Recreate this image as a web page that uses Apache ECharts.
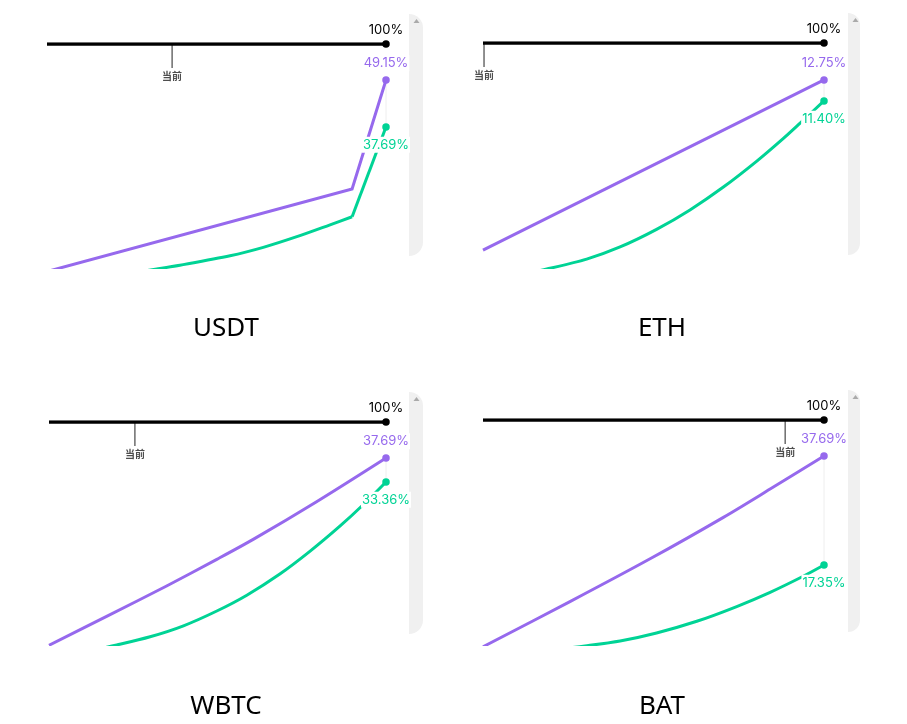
<!DOCTYPE html>
<html>
<head>
<meta charset="utf-8">
<title>Utilization curves</title>
<style>
	html, body { margin: 0; padding: 0; background: #fff; }
	#main { width: 907px; height: 724px; }
</style>
<script src="https://cdn.jsdelivr.net/npm/echarts@6/dist/echarts.min.js"></script>
</head>
<body>
<div id="main"></div>
<script>
// names of the four panels
var assets = ['USDT', 'ETH', 'WBTC', 'BAT'];
// current utilization (%)
var currentUtil = [36.9, 0.3, 25.5, 88.6];
// utilization where the curve has a sharp kink (0 = none)
var kinkUtil = [90, 0, 0, 0];

// [utilization %, rate %]
var borrowUSDT = [[0, 2.46], [90, 22.57], [100, 49.15]];
var supplyUSDT = [[20, 1.45], [32.4, 3.07], [39.2, 4.0], [54, 6.3], [63.8, 8.35], [73.7, 10.95], [83.5, 13.85], [90, 15.82], [100, 37.69]];

var borrowETH = [[0, 1.82], [100, 12.75]];
var supplyETH = [[10, 0.2], [18.7, 0.6], [30.4, 1.24], [40.2, 2.02], [50.9, 3.15], [60.7, 4.4], [70.5, 5.87], [80.3, 7.54], [88.1, 9.0], [93, 9.98], [100, 11.4]];

var borrowWBTC = [[0, 3.9], [17.1, 9.1], [34.9, 14.6], [49.8, 19.4], [60.6, 23], [79.4, 29.8], [100, 37.69]];
var supplyWBTC = [[10, 2.6], [20.1, 3.95], [30, 5.43], [39.9, 7.41], [49.8, 10.08], [58.7, 12.93], [68.5, 16.75], [77.4, 20.84], [86.4, 25.43], [93.3, 29.29], [100, 33.36]];

var borrowBAT = [[0, 2.1], [25.5, 10.52], [49, 18.51], [70.5, 26.25], [84.2, 31.52], [100, 37.69]];
var supplyBAT = [[20, 1.5], [29.9, 2.24], [40.2, 3.17], [50.9, 4.67], [62.7, 6.85], [74.4, 9.6], [84.2, 12.25], [93.9, 15.25], [100, 17.35]];

var borrowData = [borrowUSDT, borrowETH, borrowWBTC, borrowBAT];
var supplyData = [supplyUSDT, supplyETH, supplyWBTC, supplyBAT];

// value range of each panel's rate axis
var rateMin = [3.44, 0.7, 4.04, 2.52];
var rateMax = [51.59, 13.39, 39.49, 39.56];

// panel layout in px
var panels = [
	{ left: 47, width: 339, barTop: 44, top: 70, bottom: 267.5, strip: 409, stripW: 14, titleTop: 311, titleX: 221 },
	{ left: 483, width: 341, barTop: 43, top: 70, bottom: 267.5, strip: 848, stripW: 12, titleTop: 311, titleX: 657 },
	{ left: 49, width: 337, barTop: 422, top: 448, bottom: 644.5, strip: 409, stripW: 14, titleTop: 689, titleX: 221 },
	{ left: 483, width: 341, barTop: 420, top: 446, bottom: 644.5, strip: 848, stripW: 12, titleTop: 689, titleX: 657 }
];

var purple = '#9669ED';
var green = '#00D395';
var textFont = 'Inter, "Noto Sans", sans-serif';

var grid = [], xAxis = [], yAxis = [], series = [], title = [], graphic = [];

function last(arr){
	return arr[arr.length - 1];
}

function addAxis(left, top, width, height, min, max){
	grid.push({ left: left, top: top, width: width, height: height });
	xAxis.push({ type: 'value', gridIndex: grid.length - 1, min: 0, max: 100, show: false });
	yAxis.push({ type: 'value', gridIndex: grid.length - 1, min: min, max: max, show: false });
	return grid.length - 1;
}

function dot(idx, point, color, pos, dist, text, z){
	return {
		type: 'scatter',
		xAxisIndex: idx,
		yAxisIndex: idx,
		z: z,
		symbolSize: 7.5,
		silent: true,
		clip: false,
		itemStyle: { color: color, opacity: 1 },
		label: {
			show: true,
			position: pos,
			distance: dist,
			formatter: text,
			color: color,
			fontFamily: textFont,
			fontSize: 13,
			lineHeight: 16,
			backgroundColor: color == '#000' ? 'transparent' : '#fff',
			padding: [0, 1]
		},
		data: [point]
	};
}

function line(idx, data, color, width, z, smooth){
	return {
		type: 'line',
		xAxisIndex: idx,
		yAxisIndex: idx,
		z: z,
		silent: true,
		showSymbol: false,
		symbol: 'none',
		smooth: smooth ? 0.3 : false,
		lineStyle: { color: color, width: width, cap: 'butt', join: 'miter' },
		data: data
	};
}

for(var i = 0; i < assets.length; i++){
	var p = panels[i];
	var borrow = borrowData[i];
	var supply = supplyData[i];
	var borrowEnd = last(borrow);
	var supplyEnd = last(supply);

	// top bar: black 0-100% line and the current marker
	var barIdx = addAxis(p.left, p.barTop, p.width, 24, 0, 1);
	series.push(line(barIdx, [[0, 1], [100, 1]], '#000', 3.5, 3, false));
	series.push(dot(barIdx, [100, 1], '#000', 'top', 2, '100%', 6));
	series.push(line(barIdx, [[currentUtil[i], 1], [currentUtil[i], 0]], '#222', 1, 2, false));
	series.push({
		type: 'scatter',
		xAxisIndex: barIdx,
		yAxisIndex: barIdx,
		symbolSize: 0,
		silent: true,
		label: {
			show: true,
			position: 'bottom',
			distance: 3,
			formatter: '当前',
			color: '#222',
			fontFamily: '"Noto Sans CJK SC", sans-serif',
			fontWeight: 'bold',
			fontSize: 10
		},
		data: [[currentUtil[i], 0]]
	});

	// rate curves
	var idx = addAxis(p.left, p.top, p.width, p.bottom - p.top, rateMin[i], rateMax[i]);
	series.push(line(idx, [[100, borrowEnd[1]], [100, supplyEnd[1]]], '#eeeeee', 1, 1, false));
	series.push(line(idx, borrow, purple, 3, 2, i >= 2));
	if(kinkUtil[i]){
		// curved up to the kink, straight after it
		var k = kinkUtil[i];
		series.push(line(idx, supply.filter(function(d){ return d[0] <= k; }), green, 3, 3, true));
		series.push(line(idx, supply.filter(function(d){ return d[0] >= k; }), green, 3, 3, false));
	}else{
		series.push(line(idx, supply, green, 3, 3, true));
	}
	series.push(dot(idx, [100, borrowEnd[1]], purple, 'top', 5, borrowEnd[1].toFixed(2) + '%', 5));
	series.push(dot(idx, [100, supplyEnd[1]], green, 'bottom', 6, supplyEnd[1].toFixed(2) + '%', 6));

	title.push({
		text: assets[i],
		left: p.titleX,
		top: p.titleTop,
		textAlign: 'center',
		textStyle: { color: '#000', fontFamily: '"Noto Sans", sans-serif', fontWeight: 'normal', fontSize: 26 }
	});

	// the grey strip on the right of each screenshot
	graphic.push({
		type: 'rect',
		silent: true,
		shape: { x: p.strip, y: p.barTop - 30, width: p.stripW, height: 242, r: [0, p.stripW, p.stripW, 0] },
		style: { fill: '#f0f0f0' }
	});
	graphic.push({
		type: 'polygon',
		silent: true,
		shape: { points: [[p.strip + 4.5, p.barTop - 21], [p.strip + 10.5, p.barTop - 21], [p.strip + 7.5, p.barTop - 25]] },
		style: { fill: '#aaa' }
	});
}

var myChart = echarts.init(document.getElementById('main'));
myChart.setOption({
	animation: false,
	backgroundColor: '#fff',
	title: title,
	grid: grid,
	xAxis: xAxis,
	yAxis: yAxis,
	series: series,
	graphic: graphic
});
</script>
</body>
</html>
